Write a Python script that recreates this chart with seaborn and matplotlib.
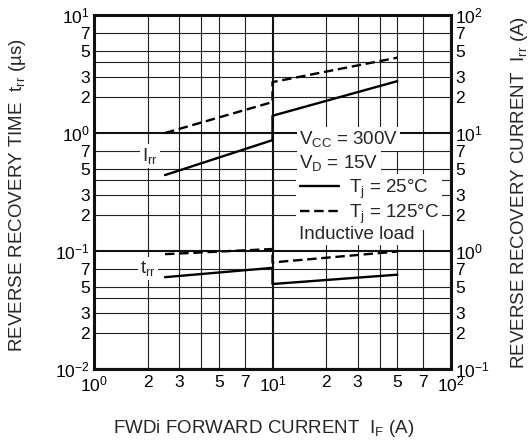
import numpy as np
import pandas as pd
import matplotlib
matplotlib.use("Agg")
import matplotlib.pyplot as plt
import seaborn as sns
from matplotlib.ticker import LogLocator, FuncFormatter
from matplotlib.lines import Line2D

# values (IF in A, trr in us, Irr in A)
if_pts = [2.5, 10, 10, 50]
trr_25 = [0.060, 0.072, 0.0525, 0.063]
trr_125 = [0.094, 0.104, 0.080, 0.099]
irr_25 = [4.4, 8.7, 14.0, 27.5]
irr_125 = [10.0, 18.3, 27.0, 43.5]
temps = ["25", "125"]

sns.set_style("white")
plt.rcParams["font.family"] = ["Liberation Sans", "DejaVu Sans"]
plt.rcParams["mathtext.default"] = "regular"

trr_df = pd.DataFrame({"IF": if_pts * 2, "trr": trr_25 + trr_125,
                       "Tj": [temps[0]] * 4 + [temps[1]] * 4})
irr_df = pd.DataFrame({"IF": if_pts * 2, "Irr": irr_25 + irr_125,
                       "Tj": [temps[0]] * 4 + [temps[1]] * 4})
dash_map = {"25": "", "125": (4, 2)}


def major_fmt(v, p):
    return "$10^{%d}$" % int(round(np.log10(v)))


def minor_fmt(v, p):
    m = int(round(v / 10 ** np.floor(np.log10(v) + 1e-9)))
    return str(m) if m in (2, 3, 5, 7) else ""


def setup_log(axis):
    axis.set_major_locator(LogLocator(base=10))
    axis.set_minor_locator(LogLocator(base=10, subs=[2, 3, 4, 5, 7]))
    axis.set_major_formatter(FuncFormatter(major_fmt))
    axis.set_minor_formatter(FuncFormatter(minor_fmt))


fig = plt.figure(figsize=(5.32, 4.46), dpi=100)
ax = fig.add_axes([94 / 532, 77 / 446, 357 / 532, 354 / 446])
ax.set_xscale("log")
ax.set_yscale("log")
ax.set_xlim(1, 100)
ax.set_ylim(0.01, 10)
setup_log(ax.xaxis)
setup_log(ax.yaxis)
ax.grid(which="major", color="#111111", lw=1.5)
ax.grid(which="minor", color="#222222", lw=0.8)
ax.tick_params(which="both", length=0, labelsize=12.5, pad=3, colors="black")
ax.tick_params(axis="x", which="both", pad=4)
for s in ax.spines.values():
    s.set_linewidth(2.2)
    s.set_color("#111111")

sns.lineplot(data=trr_df, x="IF", y="trr", style="Tj", dashes=dash_map,
             color="black", lw=1.7, estimator=None, sort=False,
             legend=False, ax=ax)

ax2 = ax.twinx()
ax2.set_yscale("log")
ax2.set_ylim(0.1, 100)
setup_log(ax2.yaxis)
ax2.tick_params(which="both", length=0, labelsize=12.5, pad=3, colors="black")
for s in ax2.spines.values():
    s.set_visible(False)
sns.lineplot(data=irr_df, x="IF", y="Irr", style="Tj", dashes=dash_map,
             color="black", lw=1.7, estimator=None, sort=False,
             legend=False, ax=ax2)
ax2.set_xlim(1, 100)

fs = 13.5
ax.set_xlabel("FWDi FORWARD CURRENT  I$_{F}$ (A)", fontsize=fs)
ax.xaxis.set_label_coords(0.475, -0.138)
ax.set_ylabel("REVERSE RECOVERY TIME  t$_{rr}$ (µs)", fontsize=fs)
ax.yaxis.set_label_coords(-0.185, 0.49)
ax2.set_ylabel("REVERSE RECOVERY CURRENT  I$_{rr}$ (A)", fontsize=fs)
ax2.yaxis.set_label_coords(1.162, 0.5)

box = dict(facecolor="white", edgecolor="none", pad=1.5)
ax.text(2.06, 0.64, "I$_{rr}$", fontsize=fs, ha="center", va="center", bbox=box)
ax.text(2.0, 0.0715, "t$_{rr}$", fontsize=fs, ha="center", va="center", bbox=box)
ax.text(14.1, 0.895, "V$_{CC}$ = 300V", fontsize=fs, ha="left", va="center", bbox=box)
ax.text(14.1, 0.556, "V$_{D}$ = 15V", fontsize=fs, ha="left", va="center", bbox=box)
ax.text(14.1, 0.139, "Inductive load", fontsize=fs, ha="left", va="center", bbox=box)

handles = [Line2D([], [], color="black", lw=1.7),
           Line2D([], [], color="black", lw=1.7, dashes=(4, 2))]
leg = ax.legend(handles, ["T$_{j}$ = 25°C", "T$_{j}$ = 125°C"],
                loc="center left", bbox_to_anchor=(0.566, 0.472),
                frameon=True, fancybox=False, framealpha=1,
                facecolor="white", edgecolor="none", fontsize=fs,
                handlelength=2.1, handletextpad=0.5, labelspacing=0.1,
                borderpad=0.2, borderaxespad=0)
leg.set_zorder(2)

fig.savefig("out.png", dpi=100)
